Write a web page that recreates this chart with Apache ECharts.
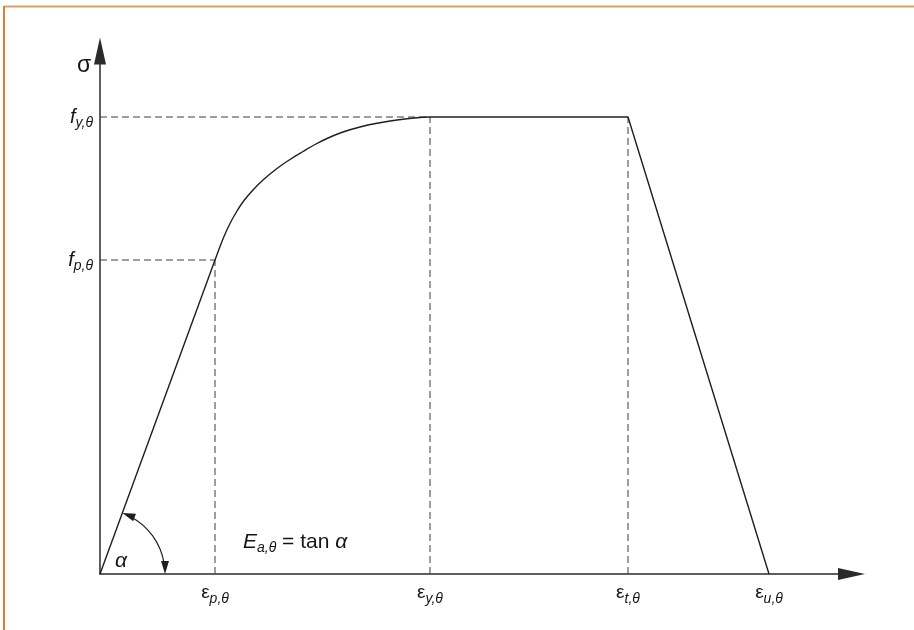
<!DOCTYPE html>
<html>
<head>
<meta charset="utf-8">
<script src="https://cdn.jsdelivr.net/npm/echarts@6/dist/echarts.min.js"></script>
<style>
  html, body { margin: 0; padding: 0; background: #fff; }
  #chart { width: 914px; height: 630px; }
</style>
</head>
<body>
<div id="chart"></div>
<script>
// ---- data (strain on x, stress on y; arbitrary units) ----
const xTickValues = [1.15, 3.30, 5.28, 6.69];          // ε_p,θ  ε_y,θ  ε_t,θ  ε_u,θ
const xTickSubs   = ['p,θ', 'y,θ', 't,θ', 'u,θ'];
const yTickValues = [3.14, 4.57];                      // f_p,θ  f_y,θ
const yTickSubs   = ['p,θ', 'y,θ'];

const elasticStrain = [0, 1.15];
const elasticStress = [0, 3.14];
const curveStrain = [1.15, 1.19, 1.24, 1.30, 1.37, 1.44, 1.53, 1.63, 1.77, 1.90, 2.03, 2.15, 2.27, 2.43, 2.60, 2.77, 2.97, 3.17, 3.30];
const curveStress = [3.14, 3.248, 3.375, 3.505, 3.63, 3.735, 3.84, 3.94, 4.055, 4.145, 4.225, 4.295, 4.355, 4.42, 4.47, 4.507, 4.54, 4.563, 4.57];
const plateauStrain = [3.30, 5.28, 6.69];
const plateauStress = [4.57, 4.57, 0];

const arcReach = 0.65;   // radius of the angle marker (strain units)
const xMax = 7.515, yMax = 5.23;

// annotation anchors
const noteE = [1.43, 0.32];
const noteAlpha = [0.21, 0.13];
const noteSigma = [-0.16, 5.08];

// ---- build ----
const zip = (a, b) => a.map((v, i) => [v, b[i]]);
const ink = '#1f1f1f';
const textInk = '#151515';
const dashC = '#3d3d3d';
const dashType = [7, 4];
const FONT = 'Liberation Sans';

function findIdx(arr, v) {
  let best = 0;
  arr.forEach((x, i) => { if (Math.abs(x - v) < Math.abs(arr[best] - v)) best = i; });
  return best;
}

const guideSeries = [];
// horizontal guides
yTickValues.forEach((fv, i) => {
  const xEnd = i === 0 ? xTickValues[0] : xTickValues[1];
  guideSeries.push({ type: 'line', data: [[0, fv], [xEnd, fv]] });
});
// vertical guides
[[xTickValues[0], yTickValues[0]], [xTickValues[1], yTickValues[1]], [xTickValues[2], yTickValues[1]]]
  .forEach(p => guideSeries.push({ type: 'line', data: [[p[0], 0], p] }));
guideSeries.forEach(s => Object.assign(s, {
  showSymbol: false, silent: true, animation: false, z: 1,
  lineStyle: { color: dashC, width: 1, type: dashType }
}));

function arrowHead(tip, dir, L, W) {
  const bx = tip[0] - dir[0] * L, by = tip[1] - dir[1] * L;
  const px = -dir[1], py = dir[0];
  return { type: 'polygon', shape: { points: [tip, [bx + px * W / 2, by + py * W / 2], [bx - px * W / 2, by - py * W / 2]] },
           style: { fill: ink } };
}

const chart = echarts.init(document.getElementById('chart'), null, { renderer: 'canvas' });
chart.setOption({
  animation: false,
  backgroundColor: '#fff',
  grid: { left: 100, top: 51, right: 914 - 100 - xMax * 100, bottom: 56, containLabel: false, outerBoundsMode: 'none' },
  graphic: [
    { type: 'line', shape: { x1: 4, y1: 6.5, x2: 914, y2: 6.5 }, style: { stroke: '#E69A5C', lineWidth: 2 }, silent: true },
    { type: 'line', shape: { x1: 4, y1: 6, x2: 4, y2: 630 }, style: { stroke: '#E0802F', lineWidth: 2 }, silent: true }
  ],
  xAxis: {
    type: 'value', min: 0, max: xMax,
    splitLine: { show: false }, axisTick: { show: false },
    axisLine: { show: true, lineStyle: { color: '#2a2a2a', width: 1.5 }, symbol: ['none', 'triangle'], symbolSize: [12, 27] },
    axisLabel: {
      customValues: xTickValues, margin: 9,
      formatter: v => '{e|ε}{s|' + xTickSubs[findIdx(xTickValues, v)] + '}',
      rich: {
        e: { fontSize: 19, fontFamily: FONT, color: textInk, lineHeight: 20 },
        s: { fontSize: 14, fontFamily: FONT, fontStyle: 'italic', color: textInk, lineHeight: 20, padding: [12, 0, 0, 0] }
      }
    }
  },
  yAxis: {
    type: 'value', min: 0, max: yMax,
    splitLine: { show: false }, axisTick: { show: false },
    axisLine: { show: true, lineStyle: { color: '#2a2a2a', width: 1.5 }, symbol: ['none', 'triangle'], symbolSize: [12, 27] },
    axisLabel: {
      customValues: yTickValues, margin: 7,
      formatter: v => '{f|f}{s|' + yTickSubs[findIdx(yTickValues, v)] + '}',
      rich: {
        f: { fontSize: 20, fontFamily: FONT, fontStyle: 'italic', color: textInk, lineHeight: 20 },
        s: { fontSize: 14, fontFamily: FONT, fontStyle: 'italic', color: textInk, lineHeight: 20, padding: [12, 0, 0, 0] }
      }
    }
  },
  series: [
    ...guideSeries,
    { type: 'line', data: zip(elasticStrain, elasticStress), showSymbol: false, silent: true, z: 3,
      lineStyle: { color: ink, width: 1.4 } },
    { type: 'line', data: zip(curveStrain, curveStress), showSymbol: false, silent: true, smooth: 0.4, z: 3,
      lineStyle: { color: ink, width: 1.4 } },
    { type: 'line', data: zip(plateauStrain, plateauStress), showSymbol: false, silent: true, z: 3,
      lineStyle: { color: ink, width: 1.4 } },
    {
      type: 'custom', silent: true, z: 4, clip: false,
      data: [[0, 0]],
      renderItem: (params, api) => {
        const c = api.coord([0, 0]);
        const e = api.coord([arcReach, 0]);
        const p = api.coord([elasticStrain[1], elasticStress[1]]);
        const r = e[0] - c[0];
        const a0 = Math.atan2(p[1] - c[1], p[0] - c[0]);
        const t0 = [c[0] + r * Math.cos(a0), c[1] + r * Math.sin(a0)];
        const t1 = [c[0] + r, c[1]];
        return {
          type: 'group',
          children: [
            { type: 'arc', shape: { cx: c[0], cy: c[1], r: r, startAngle: a0 + 0.14, endAngle: -0.17, clockwise: true },
              style: { stroke: ink, lineWidth: 1.2, fill: null } },
            arrowHead(t0, [Math.sin(a0), -Math.cos(a0)], 13, 8),
            arrowHead(t1, [0, 1], 13, 8)
          ]
        };
      }
    },
    {
      type: 'scatter', symbolSize: 0, silent: true, clip: false, z: 5,
      itemStyle: { opacity: 1 },
      data: [
        { value: noteE, label: { show: true, position: 'inside', align: 'left', verticalAlign: 'middle',
            formatter: '{i|E}{s|a,θ}{n| = tan }{i|α}',
            rich: {
              i: { fontSize: 21, fontFamily: FONT, fontStyle: 'italic', color: textInk, lineHeight: 22 },
              n: { fontSize: 21, fontFamily: FONT, color: textInk, lineHeight: 22 },
              s: { fontSize: 14, fontFamily: FONT, fontStyle: 'italic', color: textInk, lineHeight: 22, padding: [12, 0, 0, 0] }
            } } },
        { value: noteAlpha, label: { show: true, position: 'inside', formatter: 'α',
            fontSize: 21, fontFamily: FONT, fontStyle: 'italic', color: textInk } },
        { value: noteSigma, label: { show: true, position: 'inside', formatter: 'σ',
            fontSize: 23, fontFamily: FONT, color: textInk } }
      ]
    }
  ]
});
</script>
</body>
</html>
